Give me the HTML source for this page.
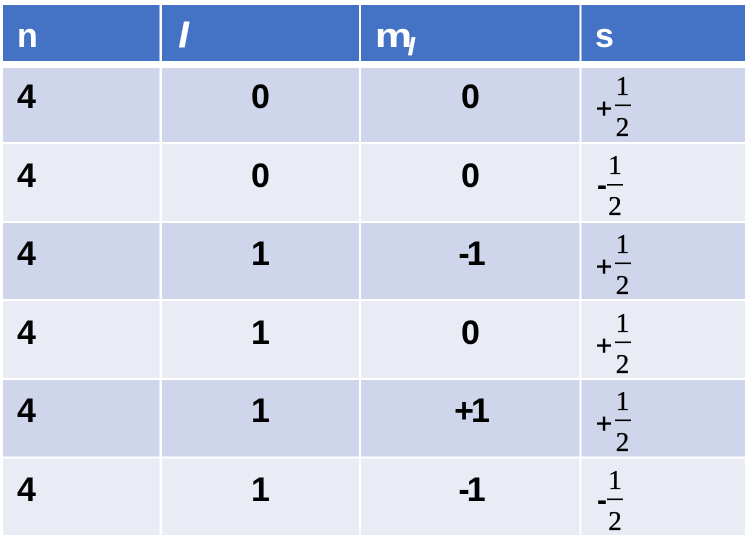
<!DOCTYPE html>
<html lang="en">
<head>
<meta charset="utf-8">
<title>Quantum numbers table</title>
<style>
html,body{margin:0;padding:0;background:#fff;width:750px;height:543px;overflow:hidden}
svg{display:block}
.d{font:bold 34px "Liberation Sans",sans-serif;fill:#000}
.h{font:bold 34px "Liberation Sans",sans-serif;fill:#fff}
.i{font:italic bold 34px "Liberation Sans",sans-serif;fill:#fff;stroke:#fff;stroke-width:1}
.sub{font-size:24px;stroke-width:.7}
.f{font:27px "Liberation Serif",serif;fill:#000;text-anchor:middle;stroke:#000;stroke-width:.35}
.p{font:28px "Liberation Sans",sans-serif;fill:#000;text-anchor:middle;stroke:#000;stroke-width:.4}
.m{font:bold 30px "Liberation Sans",sans-serif;fill:#000;text-anchor:middle}
.c{text-anchor:middle}
.t{letter-spacing:-3px}
</style>
</head>
<body>
<svg width="750" height="543" viewBox="0 0 750 543" xmlns="http://www.w3.org/2000/svg">
<g fill="#4472C4">
<rect x="3" y="5" width="156.5" height="56"/>
<rect x="162" y="5" width="197" height="56"/>
<rect x="361" y="5" width="218.5" height="56"/>
<rect x="581.5" y="5" width="163.5" height="56"/>
</g>
<text class="h" x="17" y="47">n</text>
<text class="i" x="179" y="47">l</text>
<text class="h" x="375" y="47" textLength="37" lengthAdjust="spacingAndGlyphs">m</text>
<text class="i sub" x="408" y="55">l</text>
<text class="h" x="595" y="47">s</text>

<g fill="#CFD5EA">
<rect x="3" y="68" width="156.5" height="74"/>
<rect x="162" y="68" width="197" height="74"/>
<rect x="361" y="68" width="218.5" height="74"/>
<rect x="581.5" y="68" width="163.5" height="74"/>
</g>
<g fill="#E9EBF5">
<rect x="3" y="144" width="156.5" height="77"/>
<rect x="162" y="144" width="197" height="77"/>
<rect x="361" y="144" width="218.5" height="77"/>
<rect x="581.5" y="144" width="163.5" height="77"/>
</g>
<g fill="#CFD5EA">
<rect x="3" y="223" width="156.5" height="76"/>
<rect x="162" y="223" width="197" height="76"/>
<rect x="361" y="223" width="218.5" height="76"/>
<rect x="581.5" y="223" width="163.5" height="76"/>
</g>
<g fill="#E9EBF5">
<rect x="3" y="301" width="156.5" height="77"/>
<rect x="162" y="301" width="197" height="77"/>
<rect x="361" y="301" width="218.5" height="77"/>
<rect x="581.5" y="301" width="163.5" height="77"/>
</g>
<g fill="#CFD5EA">
<rect x="3" y="380" width="156.5" height="76.5"/>
<rect x="162" y="380" width="197" height="76.5"/>
<rect x="361" y="380" width="218.5" height="76.5"/>
<rect x="581.5" y="380" width="163.5" height="76.5"/>
</g>
<g fill="#E9EBF5">
<rect x="3" y="458.5" width="156.5" height="76.5"/>
<rect x="162" y="458.5" width="197" height="76.5"/>
<rect x="361" y="458.5" width="218.5" height="76.5"/>
<rect x="581.5" y="458.5" width="163.5" height="76.5"/>
</g>

<text class="d" x="17" y="108">4</text>
<text class="d c" x="260.5" y="108">0</text>
<text class="d c" x="470.5" y="108">0</text>
<text class="d" x="17" y="187">4</text>
<text class="d c" x="260.5" y="187">0</text>
<text class="d c" x="470.5" y="187">0</text>
<text class="d" x="17" y="265">4</text>
<text class="d c" x="260.5" y="265">1</text>
<text class="d c t" x="470.5" y="265">-1</text>
<text class="d" x="17" y="344">4</text>
<text class="d c" x="260.5" y="344">1</text>
<text class="d c" x="470.5" y="344">0</text>
<text class="d" x="17" y="422">4</text>
<text class="d c" x="260.5" y="422">1</text>
<text class="d c t" x="470.5" y="422">+1</text>
<text class="d" x="17" y="501">4</text>
<text class="d c" x="260.5" y="501">1</text>
<text class="d c t" x="470.5" y="501">-1</text>

<g>
<text class="p" x="604" y="118">+</text>
<text class="f" x="622.5" y="95">1</text>
<rect x="615" y="104.5" width="16" height="1.6" fill="#000"/>
<text class="f" x="622.5" y="136">2</text>
</g>
<g>
<text class="m" x="602" y="195">-</text>
<text class="f" x="615" y="174">1</text>
<rect x="607" y="184" width="16" height="1.6" fill="#000"/>
<text class="f" x="615" y="215">2</text>
</g>
<g>
<text class="p" x="604" y="276">+</text>
<text class="f" x="622.5" y="253">1</text>
<rect x="615" y="262.5" width="16" height="1.6" fill="#000"/>
<text class="f" x="622.5" y="294">2</text>
</g>
<g>
<text class="p" x="604" y="355">+</text>
<text class="f" x="622.5" y="332">1</text>
<rect x="615" y="341.5" width="16" height="1.6" fill="#000"/>
<text class="f" x="622.5" y="373">2</text>
</g>
<g>
<text class="p" x="604" y="433">+</text>
<text class="f" x="622.5" y="410">1</text>
<rect x="615" y="419.5" width="16" height="1.6" fill="#000"/>
<text class="f" x="622.5" y="451">2</text>
</g>
<g>
<text class="m" x="602" y="510">-</text>
<text class="f" x="615" y="489">1</text>
<rect x="607" y="498.5" width="16" height="1.6" fill="#000"/>
<text class="f" x="615" y="530">2</text>
</g>
</svg>
</body>
</html>
